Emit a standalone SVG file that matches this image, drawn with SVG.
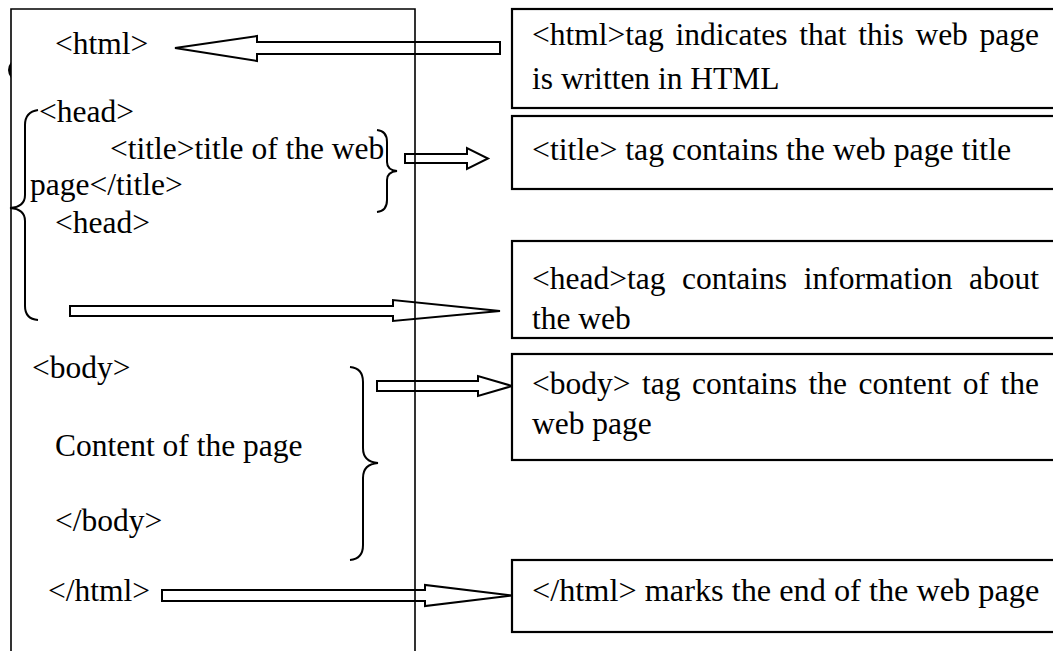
<svg xmlns="http://www.w3.org/2000/svg" width="1053" height="651" viewBox="0 0 1053 651">
<style>
text{font-family:"Liberation Serif","Times New Roman",serif;font-size:31.5px;fill:#000}
.frame{fill:none;stroke:#000;stroke-width:1.6}
.box{fill:#fff;stroke:#000;stroke-width:2.2}
.brace{fill:none;stroke:#000;stroke-width:2}
.arrow{fill:#fff;stroke:#000;stroke-width:2;stroke-linejoin:miter}
</style>
<rect width="1053" height="651" fill="#fff"/>
<g id="connectors">
<polygon class="arrow" points="175,48 257,36 257,42 500,42 500,54 257,54 257,61"/>
<polygon class="arrow" points="405,154 467,154 467,148 488,158.5 467,169 467,163 405,163"/>
<polygon class="arrow" points="70,306 393,306 393,300 500,311 393,321 393,316 70,316"/>
<polygon class="arrow" points="377,381 478,381 478,376 512,386 478,396 478,391 377,391"/>
<polygon class="arrow" points="162,590 425,590 425,585 512,595.5 425,606 425,601 162,601"/>
</g>
<g id="code-frame">
<path class="frame" d="M11,651 V9 H415 V651"/>
<path d="M11,62 Q5,70 11,78 Z" fill="#000"/>
</g>
<g id="code-text">
<text x="55" y="54">&lt;html&gt;</text>
<text x="39" y="122">&lt;head&gt;</text>
<text x="110" y="159">&lt;title&gt;title of the web</text>
<text x="30" y="195">page&lt;/title&gt;</text>
<text x="55" y="233">&lt;head&gt;</text>
<text x="32" y="378">&lt;body&gt;</text>
<text x="55" y="456">Content of the page</text>
<text x="55" y="531">&lt;/body&gt;</text>
<text x="48" y="601">&lt;/html&gt;</text>
</g>
<g id="braces">
<path class="brace" d="M38,110 Q25,112 25,125 L25,195 Q25,207 10,208 Q25,209 25,221 L25,306 Q25,319 38,320"/>
<path class="brace" d="M377,130 Q387,131 387,142 L387,162 Q387,170 397,171 Q387,172 387,180 L387,200 Q387,211 377,212"/>
<path class="brace" d="M350,367 Q363,368 363,382 L363,448 Q363,462 378,463 Q363,464 363,478 L363,545 Q363,559 350,560"/>
</g>
<g id="box-html">
<rect class="box" x="512" y="9" width="560" height="99"/>
<text y="45"><tspan x="532">&lt;html&gt;tag</tspan><tspan x="675.5">indicates</tspan><tspan x="799.2">that</tspan><tspan x="858.2">this</tspan><tspan x="915.4">web</tspan><tspan x="979.6">page</tspan></text>
<text x="532" y="89">is written in HTML</text>
</g>
<g id="box-title">
<rect class="box" x="512" y="116" width="560" height="73"/>
<text x="532" y="160" style="font-size:31.8px">&lt;title&gt; tag contains the web page title</text>
</g>
<g id="box-head">
<rect class="box" x="512" y="241" width="560" height="97"/>
<text y="289"><tspan x="532">&lt;head&gt;tag</tspan><tspan x="682.1">contains</tspan><tspan x="803.7">information</tspan><tspan x="969">about</tspan></text>
<text x="532" y="329">the web</text>
</g>
<g id="box-body">
<rect class="box" x="512" y="354" width="560" height="106"/>
<text y="394"><tspan x="532">&lt;body&gt;</tspan><tspan x="642">tag</tspan><tspan x="692">contains</tspan><tspan x="808.5">the</tspan><tspan x="858.5">content</tspan><tspan x="962.7">of</tspan><tspan x="1000.4">the</tspan></text>
<text x="532" y="434">web page</text>
</g>
<g id="box-end">
<rect class="box" x="512" y="560" width="560" height="72"/>
<text x="532" y="601" style="font-size:32.3px">&lt;/html&gt; marks the end of the web page</text>
</g>
</svg>
